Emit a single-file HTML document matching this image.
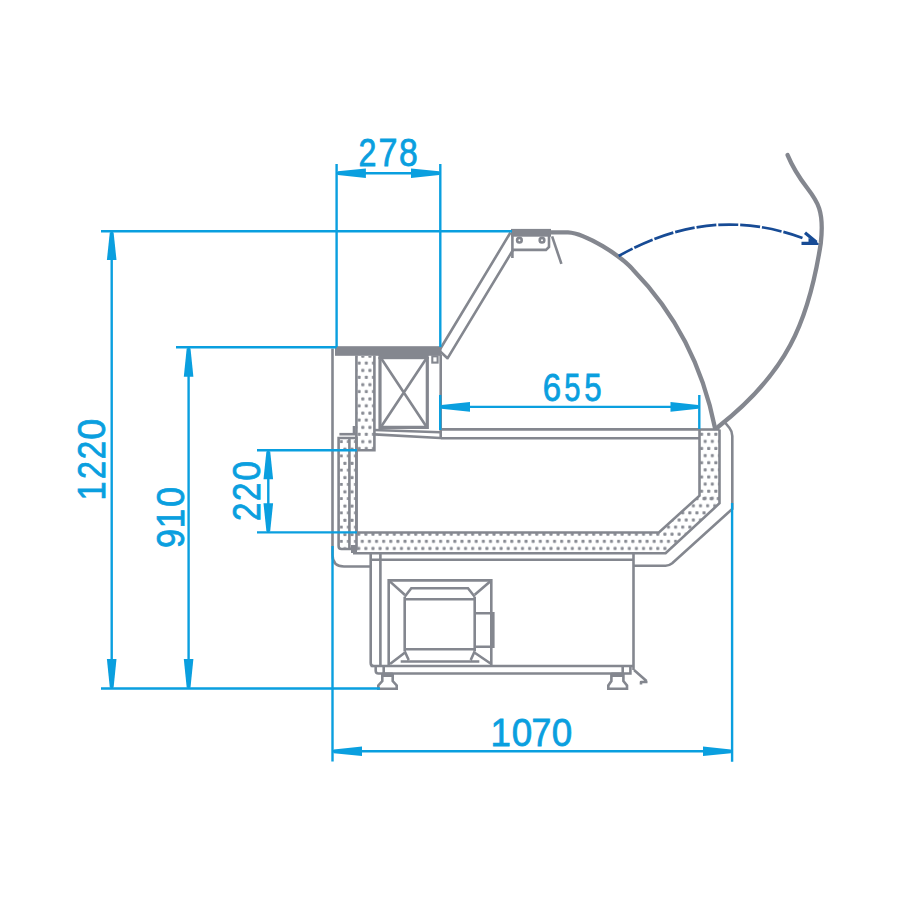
<!DOCTYPE html>
<html><head><meta charset="utf-8"><style>
html,body{margin:0;padding:0;background:#fff;width:900px;height:900px;overflow:hidden}
svg{display:block}
text{font-family:"Liberation Sans",sans-serif;fill:#0a9fdf;stroke:#0a9fdf;stroke-width:0.8}
</style></head><body>
<svg width="900" height="900" viewBox="0 0 900 900">
<defs>
<pattern id="pL" x="357.50" y="358.00" width="7.12" height="14.24" patternUnits="userSpaceOnUse">
<rect x="0.20" y="3.60" width="3" height="3" rx="0.6" fill="#888b93"/>
<rect x="3.80" y="10.90" width="3" height="3" rx="0.6" fill="#888b93"/>
</pattern>
<pattern id="pB" x="339.50" y="472.50" width="7.12" height="14.24" patternUnits="userSpaceOnUse">
<rect x="0.30" y="10.40" width="3" height="3" rx="0.6" fill="#888b93"/>
<rect x="3.90" y="3.60" width="3" height="3" rx="0.6" fill="#888b93"/>
</pattern>
<pattern id="pR" x="700.00" y="432.00" width="7.12" height="14.24" patternUnits="userSpaceOnUse">
<rect x="0.10" y="0.80" width="3" height="3" rx="0.6" fill="#888b93"/>
<rect x="3.70" y="7.80" width="3" height="3" rx="0.6" fill="#888b93"/>
</pattern>
<pattern id="pF" x="357.00" y="536.00" width="7.12" height="14.24" patternUnits="userSpaceOnUse">
<rect x="3.80" y="3.80" width="3" height="3" rx="0.6" fill="#888b93"/>
<rect x="0.24" y="10.90" width="3" height="3" rx="0.6" fill="#888b93"/>
</pattern>
</defs>
<rect width="900" height="900" fill="#fff"/>

<!-- insulation fills -->
<g stroke="none">
<rect x="357" y="356" width="17" height="94" fill="url(#pL)"/>
<rect x="339" y="438" width="17" height="111" fill="url(#pB)"/>
<rect x="700" y="430" width="19" height="72" fill="url(#pR)"/>
<path d="M700,495 L659,533 H356 V552 H665.6 L719,503 V495 Z" fill="url(#pF)"/>
</g>

<!-- gray structure -->
<g fill="none" stroke="#84878f" stroke-width="2.6" stroke-linejoin="miter">
<!-- top bar left -->
<rect x="335" y="346.2" width="106.5" height="9.6" fill="#84878f" stroke="none"/>
<rect x="378.4" y="355" width="50.3" height="4.2" fill="#84878f" stroke="none"/>
<!-- outer left wall -->
<path d="M332.5,348.5 V555 Q332.5,566.5 344,566.5 H370"/>
<!-- insulation column -->
<path d="M356.4,355.5 V450.3 H374.4 V355.5"/>
<path d="M354,426 V434.2"/>
<path d="M339.4,434.2 H356"/>
<!-- bumper -->
<path d="M338.6,438 H356.5 V549 H341.5 Q338.6,549 338.6,546 Z"/>
<path d="M349.4,438 V548"/>
<rect x="351" y="545" width="6" height="8" fill="#84878f" stroke="none"/>
<!-- x-box -->
<path d="M380,357 V427.3 H427.3 V357" stroke-width="3.2"/>
<path d="M381.6,359 L426,426 M426,359 L381.6,426"/>
<rect x="432.3" y="356.3" width="5.3" height="6.3" stroke-width="2.1"/>
<path d="M440.7,355 V439"/>
<!-- shelf -->
<path d="M374.4,430 L440.2,432.2 M374.4,434.4 L440.2,438"/>
<path d="M440.5,429.4 H700 M440.5,438.3 H700"/>
<!-- right insulation -->
<path d="M699.5,429.5 V495.6 L658.9,532.5 H356.4 V450"/>
<path d="M719.5,429.5 V503.3 L665.6,553.2 H353"/>
<path d="M699.5,429.5 H719.5"/>
<!-- outer case right -->
<path d="M725,422.5 L729.5,428 Q732.3,431.5 732.3,436 V508.9 L672.2,563.3 Q669,565.8 665.6,565.8 H634"/>
<!-- glass slanted panel -->
<path d="M440.2,349 L510.5,232.5 M447.2,358.8 L513,250 M440.2,351.5 L448,358.8"/>
<!-- top bar right -->
<rect x="511" y="228.9" width="40" height="7.8" fill="#84878f" stroke="none"/>
<path d="M512.4,236 V258.1 M512.4,249.9 H546 L549,247 V236"/>
<circle cx="519.4" cy="240.2" r="2.3" stroke-width="2.6"/>
<circle cx="542" cy="240.2" r="2.3" stroke-width="2.6"/>
<path d="M552.1,236.3 L561.4,263.9"/>
<!-- base -->
<path d="M370.7,553 V663 Q370.7,666 373.5,666"/>
<path d="M380.4,553 V666 M370.7,559.8 H633.5 M633.5,553 V670"/>
<path d="M370.7,666 H633.5"/>
<path d="M375.7,666 V670.7 Q375.7,673.5 378.5,673.5 H630.4 V666 M383.7,666 V673.5 M622.7,666 V673.5"/>
<path d="M382.3,673.5 V681 L378.3,685.5 V688.7 H396.7 V685.5 L392.7,681 V673.5"/>
<path d="M611.4,673.5 V681 L608.3,685.5 V688.7 H627 V685.5 L623.4,681 V673.5"/>
<path d="M634,670 L646.5,681 M647.5,682 H641 V684.5" stroke-linejoin="round"/>
<rect x="611.4" y="672.5" width="12" height="4.5" fill="#84878f" stroke="none"/>
<rect x="382.3" y="672.5" width="10.4" height="4.5" fill="#84878f" stroke="none"/>
<!-- compressor -->
<path d="M388.7,666 V580.4 H491.3 V666"/>
<path d="M404.7,596.7 V651.3 M474.7,596.7 V651.3"/>
<path d="M404.7,596.7 L411.3,588.3 H468 L474.7,596.7"/>
<path d="M404.7,599.3 H474.7 M404.7,649.3 H474.7"/>
<path d="M404.7,651.3 L408.7,660 M474.7,651.3 L470.7,660 M400.7,661.5 H479.3"/>
<path d="M388.7,580.4 L404.7,594.7 M491.3,580.4 L474.7,594.7 M390,664 L404.7,652.7 M491.3,664 L474.7,652.7"/>
<path d="M474.7,613.3 H493.3 V646.7 H474.7"/>
</g>

<!-- glass curves -->
<g fill="none" stroke="#84878f" stroke-width="4.3" stroke-linecap="round">
<path d="M549,232.3 H568 C586.1,233.3 620.8,256 632.8,269.4 C675.7,313.4 703.1,368 715,428"/>
<path d="M787.6,155.1 C805.4,198.1 826.6,191.8 820.8,243.1 C808.5,323.3 786,373.6 718.3,426.7"/>
</g>

<!-- dashed arc -->
<g fill="none" stroke="#174b95" stroke-width="2.7">
<path d="M618.7,256 C680.1,221.5 739.7,214.9 804,238.5" stroke-dasharray="20 1.93" stroke-dashoffset="4.43"/>
<path d="M805,232.8 L816.5,242.3 M801.5,243.4 H817" stroke-width="3.2"/>
<path d="M808.5,238 L818.5,243 L818.5,245 H808.5 Z" fill="#174b95" stroke="none"/>
</g>

<!-- blue dimensions -->
<g stroke="#0a9fdf" stroke-width="2.4" fill="none">
<path d="M101,231.3 H512 M101,688.5 H380 M111.7,231 V688"/>
<path d="M176,347.3 H336.7 M188.6,347 V688"/>
<path d="M257,450.3 H357 M257,532.4 H357 M268.3,450 V532.5"/>
<path d="M336.6,164 V347 M440.3,164 V347 M336.6,173.2 H440.3"/>
<path d="M440.2,395 V430 M699.3,395 V429 M440.2,406.9 H699.3"/>
<path d="M332.5,546 V761.5 M732.1,503 V761.8 M332.5,751.3 H732.1"/>
</g>
<g fill="#0a9fdf" stroke="none">
<path d="M109.8,232.4 H113.6 L116.5,260.0 H106.9 Z"/>
<path d="M109.8,687.4 H113.6 L116.5,659.0 H106.9 Z"/>
<path d="M186.7,348.4 H190.5 L193.4,376.7 H183.8 Z"/>
<path d="M186.7,687.4 H190.5 L193.4,659.0 H183.8 Z"/>
<path d="M266.4,451.4 H270.2 L273.1,479.2 H263.5 Z"/>
<path d="M266.4,531.3 H270.2 L273.1,503.3 H263.5 Z"/>
<path d="M337.8,171.3 V175.1 L365.9,178.0 V168.4 Z"/>
<path d="M439.1,171.3 V175.1 L411.0,178.0 V168.4 Z"/>
<path d="M441.4,405.0 V408.8 L470.0,411.7 V402.1 Z"/>
<path d="M698.1,405.0 V408.8 L670.5,411.7 V402.1 Z"/>
<path d="M333.7,749.4 V753.2 L362.0,756.1 V746.5 Z"/>
<path d="M730.9,749.4 V753.2 L703.0,756.1 V746.5 Z"/>
</g>

<!-- texts -->
<g font-size="38.5">
<text transform="translate(358.48,166.00) scale(0.838,1)">2</text>
<text transform="translate(378.55,166.00) scale(0.886,1)">7</text>
<text transform="translate(399.04,166.00) scale(0.875,1)">8</text>
<text transform="translate(542.73,401.00) scale(0.856,1)">6</text>
<text transform="translate(564.24,401.00) scale(0.756,1)">5</text>
<text transform="translate(584.15,401.00) scale(0.811,1)">5</text>
<text transform="translate(490.41,746.00) scale(0.952,1)">1</text>
<text transform="translate(511.66,746.00) scale(0.956,1)">0</text>
<text transform="translate(531.57,746.00) scale(0.926,1)">7</text>
<text transform="translate(551.76,746.00) scale(0.956,1)">0</text>
<text transform="translate(104.70,500.40) rotate(-90) scale(0.886,1)">1</text>
<text transform="translate(104.70,479.12) rotate(-90) scale(0.838,1)">2</text>
<text transform="translate(104.70,459.27) rotate(-90) scale(0.861,1)">2</text>
<text transform="translate(104.70,439.78) rotate(-90) scale(0.984,1)">0</text>
<text transform="translate(183.60,547.90) rotate(-90) scale(0.888,1)">9</text>
<text transform="translate(183.60,528.15) rotate(-90) scale(0.904,1)">1</text>
<text transform="translate(183.60,506.92) rotate(-90) scale(0.940,1)">0</text>
<text transform="translate(260.30,520.97) rotate(-90) scale(0.861,1)">2</text>
<text transform="translate(260.30,500.97) rotate(-90) scale(0.861,1)">2</text>
<text transform="translate(260.30,480.69) rotate(-90) scale(0.924,1)">0</text>
</g>
</svg>
</body></html>
